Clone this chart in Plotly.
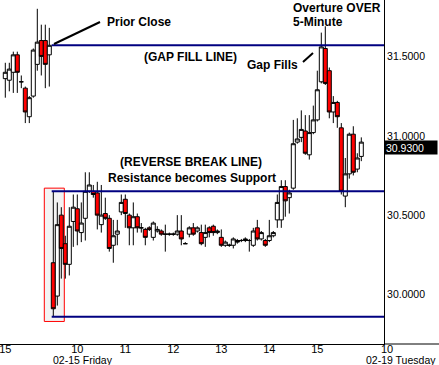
import plotly.graph_objects as go

# ---- data: 5-minute bars (index 0 = 02-15 09:30; negative = prior session 15:00-15:55)
bar_index = list(range(-12, 78))
opens = [31.33, 31.32, 31.37, 31.48, 31.31, 31.27, 31.09, 31.22, 31.42, 31.57, 31.57, 31.48,
         30.17, 29.96, 30.47, 30.29, 30.16, 30.43, 30.51, 30.36, 30.45, 30.62,
         30.62, 30.61, 30.41, 30.48, 30.45, 30.28, 30.35, 30.49, 30.57, 30.47,
         30.39, 30.46, 30.39, 30.38, 30.39, 30.33, 30.37, 30.37, 30.35, 30.35,
         30.35, 30.35, 30.37, 30.29, 30.35, 30.39, 30.37, 30.36, 30.33, 30.39,
         30.40, 30.36, 30.33, 30.28, 30.28, 30.28, 30.31, 30.31, 30.31, 30.31,
         30.28, 30.39, 30.32, 30.31, 30.31, 30.34, 30.44, 30.44, 30.65, 30.58,
         30.64, 30.93, 30.96, 31.00, 30.85, 30.99, 31.07, 31.31, 31.52, 31.38,
         31.12, 31.18, 31.02, 30.59, 30.73, 30.98, 30.76, 30.84]
highs = [31.43, 31.43, 31.50, 31.50, 31.35, 31.28, 31.22, 31.52, 31.77, 31.67, 31.67, 31.65,
         30.62, 30.55, 30.52, 30.34, 30.52, 30.60, 30.60, 30.55, 30.74, 30.74,
         30.66, 30.68, 30.66, 30.58, 30.47, 30.44, 30.44, 30.60, 30.60, 30.48,
         30.55, 30.48, 30.42, 30.39, 30.40, 30.43, 30.40, 30.38, 30.41, 30.36,
         30.36, 30.47, 30.47, 30.30, 30.40, 30.42, 30.40, 30.41, 30.41, 30.40,
         30.41, 30.38, 30.38, 30.31, 30.29, 30.33, 30.32, 30.32, 30.33, 30.32,
         30.39, 30.44, 30.37, 30.32, 30.44, 30.37, 30.60, 30.69, 30.69, 30.63,
         31.07, 31.08, 31.13, 31.10, 31.10, 31.16, 31.38, 31.62, 31.66, 31.40,
         31.22, 31.19, 31.05, 30.83, 30.99, 31.03, 30.86, 30.96]
lows = [31.21, 31.25, 31.24, 31.24, 31.27, 31.05, 31.05, 31.21, 31.38, 31.35, 31.27, 31.28,
        29.83, 29.90, 30.07, 30.07, 30.09, 30.27, 30.28, 30.30, 30.31, 30.61,
        30.58, 30.38, 30.36, 30.44, 30.24, 30.17, 30.28, 30.47, 30.39, 30.28,
        30.28, 30.36, 30.36, 30.28, 30.37, 30.31, 30.36, 30.34, 30.24, 30.34,
        30.34, 30.34, 30.28, 30.29, 30.33, 30.34, 30.36, 30.28, 30.27, 30.33,
        30.34, 30.35, 30.27, 30.27, 30.27, 30.26, 30.29, 30.30, 30.30, 30.24,
        30.27, 30.31, 30.31, 30.27, 30.30, 30.33, 30.39, 30.39, 30.46, 30.48,
        30.63, 30.92, 30.93, 30.85, 30.82, 30.98, 31.06, 31.30, 31.29, 31.08,
        31.05, 31.02, 30.60, 30.52, 30.70, 30.72, 30.74, 30.81]
closes = [31.37, 31.39, 31.48, 31.37, 31.31, 31.12, 31.21, 31.51, 31.56, 31.47, 31.42, 31.54,
          29.88, 30.41, 30.26, 30.16, 30.40, 30.52, 30.37, 30.42, 30.62, 30.66,
          30.60, 30.47, 30.47, 30.45, 30.26, 30.34, 30.37, 30.55, 30.48, 30.39,
          30.46, 30.39, 30.39, 30.33, 30.38, 30.42, 30.38, 30.35, 30.35, 30.35,
          30.35, 30.37, 30.32, 30.29, 30.39, 30.35, 30.39, 30.29, 30.36, 30.36,
          30.36, 30.37, 30.28, 30.30, 30.28, 30.32, 30.30, 30.31, 30.32, 30.31,
          30.37, 30.32, 30.36, 30.28, 30.34, 30.36, 30.55, 30.65, 30.56, 30.61,
          30.92, 30.95, 31.01, 30.86, 30.99, 31.07, 31.26, 31.53, 31.30, 31.12,
          31.18, 31.09, 30.62, 30.73, 30.98, 30.74, 30.83, 30.93]

x_tick_vals = [-12, 6, 18, 30, 42, 54, 66]
x_tick_text = ["15", "10", "11", "12", "13", "14", "15"]
y_tick_vals = [30.0, 30.5, 31.0, 31.5]
y_tick_text = ["30.0000", "30.5000", "31.0000", "31.5000"]
day_labels = ["02-15 Friday", "02-19 Tuesday"]
next_day_tick = "10"

X_RANGE = [-13.325, 82.675]
Y_RANGE = [29.658, 31.8255]
PW, PH = 384, 344  # plot area in px


def px(v):
    return v / PW


def py(v):
    return 1 - v / PH


first = bar_index.index(0)
prior_close = closes[first - 1]
break_high = highs[first]
open_low = lows[first]
last_close = closes[-1]

fig = go.Figure()
fig.add_trace(go.Candlestick(
    x=bar_index, open=opens, high=highs, low=lows, close=closes,
    increasing=dict(fillcolor="white", line=dict(color="black", width=1)),
    decreasing=dict(fillcolor="#ff0000", line=dict(color="black", width=1)),
    whiskerwidth=0, showlegend=False, hoverinfo="skip",
))

NAVY = "#000080"
shapes = [
    # highlight box around the opening bars
    dict(type="rect", xref="x", yref="y", x0=bar_index[first] - 2.25, x1=bar_index[first + 2] + 0.75,
         y0=open_low - 0.03, y1=break_high + 0.02, line=dict(color="#ff0000", width=1),
         fillcolor="#f3f3f3", layer="below"),
    dict(type="line", xref="x", yref="y", x0=-0.4, x1=X_RANGE[1], y0=prior_close, y1=prior_close,
         line=dict(color=NAVY, width=2)),
    dict(type="line", xref="x", yref="y", x0=-0.4, x1=X_RANGE[1], y0=break_high, y1=break_high,
         line=dict(color=NAVY, width=2)),
    dict(type="line", xref="x", yref="y", x0=-0.4, x1=X_RANGE[1], y0=open_low, y1=open_low,
         line=dict(color=NAVY, width=2)),
    # pointer lines
    dict(type="line", xref="paper", yref="paper", x0=px(54), y0=py(44), x1=px(100), y1=py(22),
         line=dict(color="black", width=2)),
    dict(type="line", xref="paper", yref="paper", x0=px(303), y0=py(62), x1=px(313), y1=py(53),
         line=dict(color="black", width=2)),
    # x axis line continues under the price scale
    dict(type="line", xref="paper", yref="paper", x0=1, x1=439 / PW, y0=0, y1=0,
         line=dict(color="black", width=1)),
]

BF = dict(family="Liberation Sans, Arial", size=12, color="black")
annos = []


def txt(t, x, y, xanchor="left"):
    annos.append(dict(text="<b>%s</b>" % t, xref="paper", yref="paper", x=px(x), y=py(y),
                      xanchor=xanchor, yanchor="middle", showarrow=False, font=BF))


txt("Prior Close", 105, 22)
txt("(GAP FILL LINE)", 142, 57)
txt("Overture OVER", 291, 8)
txt("5-Minute", 291, 21.5)
txt("Gap Fills", 245, 65)
txt("(REVERSE BREAK LINE)", 118, 162)
txt("Resistance becomes Support", 106, 178)

SF = dict(family="Liberation Sans, Arial", size=11, color="black")
DF = dict(family="Liberation Sans, Arial", size=10.5, color="black")
annos.append(dict(text=day_labels[0], xref="paper", yref="paper", x=px(52), y=py(359.5),
                  xanchor="left", yanchor="middle", showarrow=False, font=DF, borderpad=0))
annos.append(dict(text=day_labels[1], xref="paper", yref="paper", x=px(365), y=py(359.5),
                  xanchor="left", yanchor="middle", showarrow=False, font=DF, borderpad=0))
annos.append(dict(text=next_day_tick, xref="paper", yref="paper", x=px(386.5), y=py(349),
                  xanchor="center", yanchor="middle", showarrow=False, font=SF, borderpad=0))
annos.append(dict(text="%.4f" % last_close, xref="paper", yref="y", x=1, y=last_close,
                  xanchor="left", yanchor="middle", yshift=-5, showarrow=False,
                  bgcolor="black", width=50, height=11, align="left", borderpad=1,
                  font=dict(family="Liberation Sans, Arial", size=10.5, color="white")))

fig.update_layout(
    width=439, height=365,
    margin=dict(l=0, r=55, t=0, b=21, pad=0),
    paper_bgcolor="white", plot_bgcolor="white",
    boxgap=0, boxgroupgap=0,
    shapes=shapes, annotations=annos,
    showlegend=False, hovermode=False,
    xaxis=dict(range=X_RANGE, showgrid=False, zeroline=False, showline=True, linecolor="black",
               linewidth=1, ticks="", tickvals=x_tick_vals, ticktext=x_tick_text, tickfont=SF,
               ticklabeloverflow="allow", ticklabelstandoff=-5,
               rangeslider=dict(visible=False), fixedrange=True),
    yaxis=dict(range=Y_RANGE, side="right", showgrid=False, zeroline=False, showline=True,
               linecolor="black", linewidth=1, ticks="", tickvals=y_tick_vals,
               ticktext=y_tick_text, ticklabelshift=5,
               tickfont=dict(family="Liberation Sans, Arial", size=10.5, color="black"),
               fixedrange=True),
)

fig.write_html("out.html", config={"displayModeBar": False},
               post_script="document.body.style.margin='0';document.body.style.overflow='hidden';")
